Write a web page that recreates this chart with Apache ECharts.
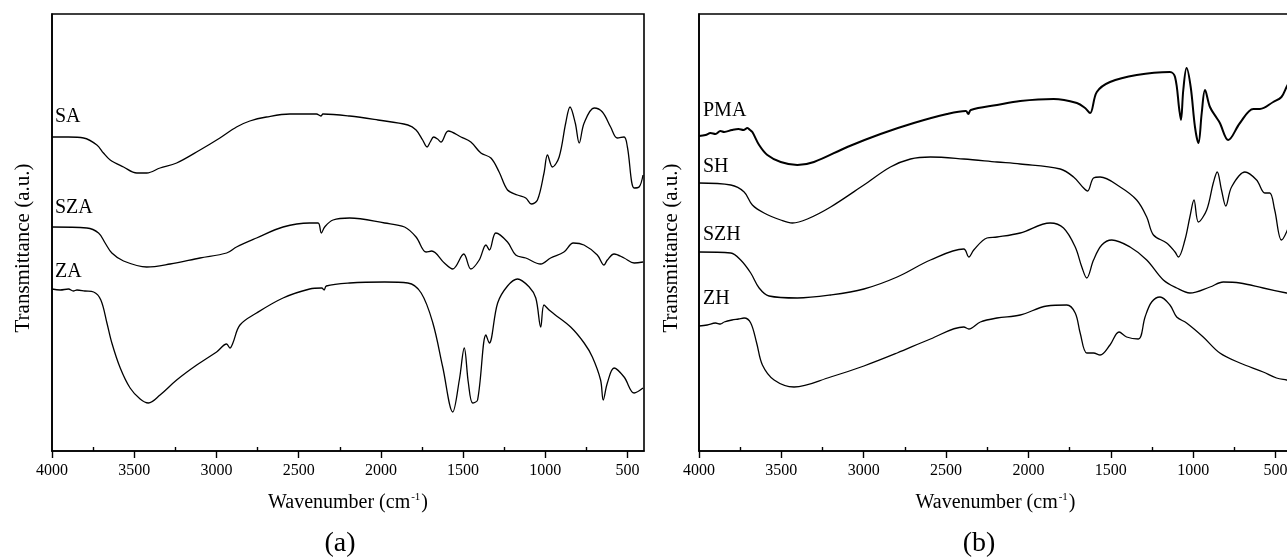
<!DOCTYPE html>
<html>
<head>
<meta charset="utf-8">
<script src="https://cdn.jsdelivr.net/npm/echarts@6/dist/echarts.min.js"></script>
<style>
html,body{margin:0;padding:0;background:#fff;}
#c{width:1287px;height:558px;}
</style>
</head>
<body>
<div id="c"></div>
<script>
// ---- tick labels ----
const majorTicks = [4000, 3500, 3000, 2500, 2000, 1500, 1000, 500];
const minorTicks = [3750, 3250, 2750, 2250, 1750, 1250, 750];

// ---- panel (a) spectra: [wavenumber, transmittance (a.u.)] ----
const SA = [[4000,314],[3900,314],[3808,313],[3727,306],[3687,298],[3646,291],[3565,284],[3484,278],[3424,278],[3343,283],[3242,288],[3100,301],[2979,313],[2878,324],[2797,330],[2696,334],[2554,337],[2392,337],[2365,335],[2352,337],[2190,335],[2018,331],[1836,326],[1786,321],[1746,311],[1719,304],[1700,309],[1679,314],[1655,312],[1635,309],[1590,320],[1513,314],[1453,309],[1392,298],[1331,293],[1281,279],[1230,261],[1170,256],[1119,253],[1085,247],[1048,251],[1008,278],[987,296],[957,284],[916,294],[876,328],[850,344],[818,328],[794,308],[764,328],[703,343],[653,339],[603,324],[562,313],[521,314],[501,304],[460,263],[430,264],[406,276]];
const SZA = [[4000,224],[3788,223],[3717,218],[3677,208],[3636,198],[3565,190],[3424,184],[3282,187],[3100,193],[2938,198],[2878,204],[2756,213],[2595,224],[2433,228],[2382,228],[2362,218],[2342,224],[2291,231],[2190,233],[1977,228],[1856,224],[1786,214],[1725,199],[1691,200],[1614,188],[1563,182],[1496,197],[1453,182],[1402,191],[1361,206],[1340,201],[1301,218],[1230,209],[1180,196],[1119,193],[1028,187],[968,193],[887,199],[830,208],[765,206],[684,196],[643,186],[623,191],[582,197],[521,193],[460,188],[406,189]];
const ZA = [[4000,162],[3950,161],[3900,162],[3870,160],[3848,161],[3800,160],[3747,159],[3703,151],[3666,128],[3636,108],[3585,83],[3525,63],[3464,52],[3414,48],[3343,56],[3242,71],[3120,86],[2999,99],[2938,107],[2918,103],[2900,108],[2857,126],[2756,138],[2595,153],[2433,162],[2360,163],[2345,161],[2332,165],[2190,168],[1977,169],[1836,168],[1755,158],[1684,128],[1624,84],[1563,39],[1523,71],[1493,103],[1468,68],[1442,48],[1412,51],[1361,116],[1341,108],[1290,148],[1230,165],[1169,172],[1098,164],[1058,153],[1028,124],[1008,146],[977,141],[947,137],[846,124],[764,108],[714,94],[664,71],[648,51],[623,68],[582,83],[521,74],[460,58],[406,63]];

// ---- panel (b) spectra ----
const PMA = [[4000,315],[3960,316],[3930,318],[3900,317],[3870,320],[3847,319],[3800,321],[3760,322],[3730,321],[3706,323],[3690,321],[3676,319],[3635,306],[3585,296],[3504,289],[3403,286],[3302,289],[3100,304],[2898,317],[2696,328],[2494,337],[2380,340],[2365,337],[2350,341],[2191,346],[2050,350],[1847,352],[1706,348],[1656,343],[1626,338],[1585,359],[1505,369],[1343,376],[1141,379],[1110,374],[1084,341],[1074,331],[1060,361],[1040,383],[1015,364],[989,324],[968,308],[948,338],[928,361],[898,344],[857,333],[838,328],[787,311],[716,328],[635,342],[595,342],[514,349],[464,354],[433,364],[400,375]];
const SH = [[4000,268],[3807,266],[3726,259],[3676,246],[3605,238],[3504,231],[3433,228],[3342,232],[3201,244],[2999,266],[2838,284],[2716,292],[2595,294],[2393,292],[2191,289],[2050,287],[1807,282],[1726,274],[1665,263],[1641,260],[1605,273],[1565,274],[1443,264],[1343,251],[1282,234],[1241,216],[1161,208],[1110,199],[1090,194],[1050,211],[1020,234],[995,251],[968,229],[918,241],[878,268],[854,279],[828,261],[802,245],[767,264],[686,279],[615,271],[565,258],[535,258],[505,241],[464,211],[433,219],[400,235]];
const SZH = [[4000,199],[3807,198],[3747,191],[3686,178],[3635,163],[3575,155],[3403,153],[3201,156],[2999,162],[2797,174],[2595,191],[2393,202],[2362,194],[2332,201],[2252,213],[2191,214],[2050,218],[1868,228],[1787,223],[1716,204],[1676,184],[1646,173],[1605,191],[1555,206],[1494,211],[1383,204],[1282,191],[1181,171],[1100,163],[1020,158],[898,164],[817,169],[716,168],[575,163],[433,158],[400,157]];
const ZH = [[4000,125],[3950,126],[3900,128],[3870,127],[3847,129],[3800,131],[3760,132],[3726,133],[3686,128],[3650,108],[3615,86],[3544,71],[3423,64],[3201,74],[2999,85],[2797,98],[2595,112],[2393,124],[2362,122],[2292,129],[2191,133],[2050,136],[1888,145],[1767,146],[1716,138],[1686,118],[1646,98],[1605,98],[1565,96],[1505,106],[1450,119],[1404,114],[1333,112],[1292,134],[1252,149],[1201,154],[1141,146],[1100,134],[1040,128],[939,114],[838,98],[716,88],[575,79],[494,73],[433,71],[400,70]];

const FONT = 'Liberation Serif, Times New Roman, serif';
const chart = echarts.init(document.getElementById('c'), null, {renderer: 'canvas'});

function xAxes(gridIndex) {
  return [{
    gridIndex: gridIndex, type: 'value', inverse: true, min: 400, max: 4000,
    axisLine: {show: true, onZero: false, lineStyle: {color: '#000', width: 1.6}},
    axisTick: {show: true, inside: false, length: 7, customValues: majorTicks, lineStyle: {color: '#000', width: 1.4}},
    axisLabel: {show: true, margin: 12, customValues: majorTicks, color: '#000', fontFamily: FONT, fontSize: 16,
      formatter: function (v) { return String(v); }},
    splitLine: {show: false},
    name: '{n|Wavenumber (cm}{s|-1}{n|)}', nameLocation: 'middle', nameGap: 40,
    nameTextStyle: {rich: {
      n: {fontFamily: FONT, fontSize: 20, color: '#000', lineHeight: 24},
      s: {fontFamily: FONT, fontSize: 11, color: '#000', lineHeight: 24, padding: [0, 1, 12, 1]}
    }}
  }, {
    gridIndex: gridIndex, type: 'value', inverse: true, min: 400, max: 4000,
    axisLine: {show: false},
    axisTick: {show: true, inside: false, length: 4, customValues: minorTicks, lineStyle: {color: '#000', width: 1.4}},
    axisLabel: {show: false},
    splitLine: {show: false}
  }];
}
function yAxis(gridIndex) {
  return {
    gridIndex: gridIndex, type: 'value', min: 0, max: 437,
    axisLine: {show: true, lineStyle: {color: '#000', width: 1.6}},
    axisTick: {show: false}, axisLabel: {show: false}, splitLine: {show: false}
  };
}
function line(name, data, xi, yi, w) {
  return {
    name: name, type: 'line', data: data, xAxisIndex: xi, yAxisIndex: yi,
    showSymbol: false, symbol: 'none', smooth: 0.35,
    lineStyle: {color: '#000', width: w || 1.3}, silent: true, animation: false
  };
}
function label(text, x, y) {
  return {type: 'text', x: x, y: y, silent: true,
    style: {text: text, fill: '#000', font: '20px ' + FONT, textVerticalAlign: 'middle'}};
}

chart.setOption({
  animation: false,
  backgroundColor: '#fff',
  grid: [
    {left: 52, right: 643, top: 14, bottom: 107, outerBoundsMode: 'none', containLabel: false,
      show: true, borderColor: '#000', borderWidth: 1.6, backgroundColor: 'transparent'},
    {left: 699, width: 593, top: 14, bottom: 107, outerBoundsMode: 'none', containLabel: false,
      show: true, borderColor: '#000', borderWidth: 1.6, backgroundColor: 'transparent'}
  ],
  xAxis: xAxes(0).concat(xAxes(1)),
  yAxis: [yAxis(0), yAxis(1)],
  series: [
    line('SA', SA, 0, 0), line('SZA', SZA, 0, 0), line('ZA', ZA, 0, 0),
    line('PMA', PMA, 2, 1, 2), line('SH', SH, 2, 1), line('SZH', SZH, 2, 1), line('ZH', ZH, 2, 1)
  ],
  graphic: [
    label('SA', 55, 117), label('SZA', 55, 208), label('ZA', 55, 272),
    label('PMA', 703, 111), label('SH', 703, 167), label('SZH', 703, 235), label('ZH', 703, 299),
    {type: 'text', x: 23, y: 248, rotation: Math.PI / 2, silent: true,
      style: {text: 'Transmittance (a.u.)', fill: '#000', font: '21px ' + FONT, textAlign: 'center', textVerticalAlign: 'middle'}},
    {type: 'text', x: 671, y: 248, rotation: Math.PI / 2, silent: true,
      style: {text: 'Transmittance (a.u.)', fill: '#000', font: '21px ' + FONT, textAlign: 'center', textVerticalAlign: 'middle'}},
    {type: 'text', x: 340, y: 544, silent: true,
      style: {text: '(a)', fill: '#000', font: '28px ' + FONT, textAlign: 'center', textVerticalAlign: 'middle'}},
    {type: 'text', x: 979, y: 544, silent: true,
      style: {text: '(b)', fill: '#000', font: '28px ' + FONT, textAlign: 'center', textVerticalAlign: 'middle'}}
  ]
});
</script>
</body>
</html>
